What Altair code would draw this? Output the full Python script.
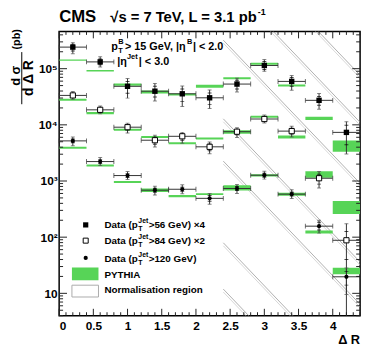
import altair as alt
import pandas as pd

FONT = "Liberation Sans"
W, H = 306, 289

# ---------------- data ----------------
bin_lo = [0.0, 0.4, 0.8, 1.2, 1.6, 2.0, 2.4, 2.8, 3.2, 3.6, 4.0]
bin_hi = [0.4, 0.8, 1.2, 1.6, 2.0, 2.4, 2.8, 3.2, 3.6, 4.0, 4.4]
bin_mid = [0.2, 0.6, 1.0, 1.4, 1.8, 2.2, 2.6, 3.0, 3.4, 3.8, 4.2]

# Data pT(jet) > 56 GeV, x4
s1_val = [2.42e5, 1.32e5, 4.85e4, 3.97e4, 3.57e4, 3.03e4, 5.32e4, 1.14e5, 5.93e4, 2.73e4, 7.34e3]
s1_tot_hi = [2.91e5, 1.63e5, 6.69e4, 5.47e4, 4.92e4, 4.18e4, 6.77e4, 1.45e5, 7.55e4, 3.62e4, 1.14e4]
s1_tot_lo = [1.85e5, 1.07e5, 2.99e4, 2.66e4, 2.12e4, 1.95e4, 3.86e4, 8.96e4, 4.13e4, 1.90e4, 3.03e3]
s1_stat_hi = [2.73e5, 1.49e5, 5.93e4, 4.85e4, 4.36e4, 3.70e4, 6.24e4, 1.34e5, 6.96e4, 3.20e4, 9.85e3]
s1_stat_lo = [2.06e5, 1.17e5, 3.66e4, 3.12e4, 2.59e4, 2.29e4, 4.36e4, 9.71e4, 4.85e4, 2.23e4, 4.4e3]

# Data pT(jet) > 84 GeV, x2
s2_val = [3.34e4, 1.85e4, 9.08e3, 5.32e3, 6.25e3, 4.06e3, 7.55e3, 1.27e4, 7.73e3, 1.12e3, 88]
s2_tot_hi = [3.92e4, 2.17e4, 1.066e4, 6.5e3, 7.34e3, 4.96e3, 8.86e3, 1.49e4, 9.45e3, 1.48e3, 174]
s2_tot_lo = [2.84e4, 1.576e4, 7.13e3, 4.02e3, 4.72e3, 3.06e3, 5.93e3, 1.08e4, 6.07e3, 749, 2]
s2_stat_hi = [3.62e4, 2.0e4, 9.83e3, 6.0e3, 6.77e3, 4.58e3, 8.18e3, 1.375e4, 8.72e3, 1.32e3, 126]
s2_stat_lo = [3.08e4, 1.71e4, 8.05e3, 4.53e3, 5.32e3, 3.46e3, 6.69e3, 1.17e4, 6.85e3, 880, 40]

# Data pT(jet) > 120 GeV
s3_val = [5.18e3, 2.22e3, 1.25e3, 686, 713, 491, 735, 1268, 583, 157, 19.7]
s3_tot_hi = [6.08e3, 2.61e3, 1.47e3, 805, 854, 600, 863, 1489, 698, 200, 28.3]
s3_tot_lo = [4.24e3, 1.89e3, 1.065e3, 561, 595, 386, 601, 1080, 487, 118, 9.55]
s3_stat_hi = [5.61e3, 2.40e3, 1.35e3, 743, 772, 554, 796, 1373, 631, 184, 24.6]
s3_stat_lo = [4.78e3, 2.05e3, 1.155e3, 633, 658, 435, 679, 1171, 538, 134, 14.0]

# PYTHIA bands (low / high edge)
p1_lo = [1.38e5, 8.93e4, 4.95e4, 3.63e4, 3.33e4, 4.56e4, 6.48e4, 1.17e5, 4.80e4, 1.22e4, 3.33e3]
p1_hi = [1.46e5, 9.48e4, 5.46e4, 4.10e4, 3.61e4, 5.16e4, 7.03e4, 1.28e5, 5.20e4, 1.40e4, 5.26e3]
p2_lo = [2.69e4, 1.54e4, 7.85e3, 5.83e3, 4.53e3, 5.47e3, 6.97e3, 1.34e4, 5.70e3, 1.14e3, 258]
p2_hi = [2.91e4, 1.70e4, 8.52e3, 6.32e3, 4.91e3, 5.93e3, 8.05e3, 1.45e4, 6.43e3, 1.49e3, 441]
p3_lo = [3.75e3, 1.82e3, 920, 640, 512, 561, 677, 1.20e3, 545, 116, 21.9]
p3_hi = [4.07e3, 1.97e3, 996, 735, 561, 608, 838, 1.32e3, 615, 132, 28.6]

# normalisation region hatching (decoration): line start at dR=2.4, end at dR=4.4
hatch_x0, hatch_x1 = 2.4, 4.4
hatch_start = [2.72e7, 3.93e6, 3.22e5, 1.28e4, 2.26e3, 79.4, 11.9]
hatch_end = [7.66e4, 1.11e4, 908, 36.1, 6.37, 0.224, 0.0337]

# axis ticks
x_major = [0, 0.5, 1, 1.5, 2, 2.5, 3, 3.5, 4]
x_minor = [round(i * 0.1, 1) for i in range(45) if i % 5]
y_major = [10, 100, 1000, 10000, 100000]
y_minor = [m * 10 ** e for e in range(0, 6) for m in range(2, 10) if 4 <= m * 10 ** e <= 4.6e5]

# ---------------- tables ----------------
series = [
    (s1_val, s1_tot_lo, s1_tot_hi, s1_stat_lo, s1_stat_hi),
    (s2_val, s2_tot_lo, s2_tot_hi, s2_stat_lo, s2_stat_hi),
    (s3_val, s3_tot_lo, s3_tot_hi, s3_stat_lo, s3_stat_hi),
]
rows, hcaps, tcaps, scaps = [], [], [], []
for sid, (v, tl, th, sl, sh) in enumerate(series):
    for i in range(len(bin_mid)):
        rows.append(dict(s=sid, x=bin_mid[i], xlo=bin_lo[i], xhi=bin_hi[i], v=v[i],
                         tlo=tl[i], thi=th[i]))
        hcaps += [dict(s=sid, x=bin_lo[i], v=v[i]), dict(s=sid, x=bin_hi[i], v=v[i])]
        tcaps += [dict(x=bin_mid[i], v=tl[i]), dict(x=bin_mid[i], v=th[i])]
        scaps += [dict(x=bin_mid[i], v=sl[i]), dict(x=bin_mid[i], v=sh[i])]
pts = pd.DataFrame(rows)
hcaps = pd.DataFrame(hcaps)
tcaps = pd.DataFrame(tcaps)
scaps = pd.DataFrame(scaps)

bands = pd.DataFrame(
    [dict(xlo=bin_lo[i], xhi=bin_hi[i], lo=lo[i], hi=hi[i])
     for lo, hi in [(p1_lo, p1_hi), (p2_lo, p2_hi), (p3_lo, p3_hi)]
     for i in range(len(bin_lo))]
)
hatch = pd.DataFrame(dict(x=[hatch_x0] * len(hatch_start), x2=[hatch_x1] * len(hatch_start),
                          y=hatch_start, y2=hatch_end))

xs = alt.Scale(domain=[0, 4.4], nice=False, zero=False)
ys = alt.Scale(type="log", domain=[4, 4.6e5], nice=False)
xa = alt.Axis(values=x_major, format=".1~f", ticks=False, tickSize=0, domain=False, grid=False,
              title=None, labelFont=FONT, labelFontSize=12, labelFontWeight="bold",
              labelPadding=5, labelColor="black")
ylab = ("datum.value == 10 ? '10' : datum.value == 100 ? '10\u00b2' : datum.value == 1000 ? '10\u00b3'"
        " : datum.value == 10000 ? '10\u2074' : '10\u2075'")
ya = alt.Axis(values=y_major, labelExpr=ylab, ticks=False, tickSize=0, domain=False, grid=False,
              title=None, labelFont=FONT, labelFontSize=12, labelFontWeight="bold",
              labelPadding=2, labelColor="black")


def X(f):
    return alt.X(f, type="quantitative", scale=xs, axis=xa)


def Y(f):
    return alt.Y(f, type="quantitative", scale=ys, axis=ya)


layers = []

# hatching
layers.append(alt.Chart(hatch).mark_rule(clip=True, color="#8c8c8c", strokeWidth=0.7).encode(
    x=X("x"), x2="x2", y=Y("y"), y2="y2"))
layers.append(alt.Chart(hatch).mark_rule(clip=True, color="#c4c4c4", strokeWidth=0.7,
                                         yOffset=3, y2Offset=3).encode(
    x=X("x"), x2="x2", y=Y("y"), y2="y2"))

# PYTHIA bands
layers.append(alt.Chart(bands).mark_rect(color="#57d457", clip=True).encode(
    x=X("xlo"), x2="xhi", y=Y("lo"), y2="hi"))

# error bars
layers.append(alt.Chart(pts).mark_rule(color="#333333", strokeWidth=1).encode(
    x=X("xlo"), x2="xhi", y=Y("v")))
layers.append(alt.Chart(hcaps).mark_tick(orient="vertical", size=5, thickness=1, color="#333333").encode(
    x=X("x"), y=Y("v")))
layers.append(alt.Chart(pts).mark_rule(color="#333333", strokeWidth=1, clip=True).encode(
    x=X("x"), y=Y("tlo"), y2="thi"))
layers.append(alt.Chart(tcaps).mark_tick(orient="horizontal", size=4, thickness=1, color="#555555",
                                         clip=True).encode(x=X("x"), y=Y("v")))
layers.append(alt.Chart(scaps).mark_tick(orient="horizontal", size=4, thickness=1, color="#000000",
                                         clip=True).encode(x=X("x"), y=Y("v")))

# markers
layers.append(alt.Chart(pts[pts.s == 0]).mark_point(shape="square", filled=True, size=30,
                                                    color="black", opacity=1).encode(x=X("x"), y=Y("v")))
layers.append(alt.Chart(pts[pts.s == 1]).mark_point(shape="square", filled=True, size=28, fill="white",
                                                    stroke="black", strokeWidth=1, opacity=1).encode(
    x=X("x"), y=Y("v")))
layers.append(alt.Chart(pts[pts.s == 2]).mark_point(shape="circle", filled=True, size=18,
                                                    color="black", opacity=1).encode(x=X("x"), y=Y("v")))

# inner ticks (ROOT style)
xt = pd.DataFrame(dict(t=x_major))
xm = pd.DataFrame(dict(t=x_minor))
yt = pd.DataFrame(dict(t=y_major))
ym = pd.DataFrame(dict(t=y_minor))
tick_col = "#222222"
for df, ln in [(xt, 7), (xm, 3.5)]:
    layers.append(alt.Chart(df).mark_rule(color=tick_col, strokeWidth=1).encode(
        x=X("t"), y=alt.value(H), y2=alt.value(H - ln)))
    layers.append(alt.Chart(df).mark_rule(color=tick_col, strokeWidth=1).encode(
        x=X("t"), y=alt.value(0), y2=alt.value(ln)))
for df, ln in [(yt, 8), (ym, 4)]:
    layers.append(alt.Chart(df).mark_rule(color=tick_col, strokeWidth=1).encode(
        y=Y("t"), x=alt.value(0), x2=alt.value(ln)))
    layers.append(alt.Chart(df).mark_rule(color=tick_col, strokeWidth=1).encode(
        y=Y("t"), x=alt.value(W), x2=alt.value(W - ln)))

one = pd.DataFrame({"a": [0]})


def txt(s, x, y, size, align="left", baseline="alphabetic", angle=None):
    kw = dict(align=align, baseline=baseline, font=FONT, fontSize=size, fontWeight="bold", color="black")
    if angle is not None:
        kw["angle"] = angle
    return alt.Chart(one).mark_text(**kw).encode(x=alt.value(x), y=alt.value(y), text=alt.value(s))


# title
layers.append(txt("CMS", 0, -10, 17))
layers.append(txt("\u221as = 7 TeV, L = 3.1 pb", 52, -10, 15))
layers.append(txt("-1", 202, -17, 9))

# header text
layers.append(txt("p", 53, 19, 11))
layers.append(txt("T", 60, 22, 7.5))
layers.append(txt("B", 60, 13, 7.5))
layers.append(txt("> 15 GeV, |\u03b7", 67, 19, 11))
layers.append(txt("B", 130, 13, 7.5))
layers.append(txt("| < 2.0", 136, 19, 11))
layers.append(txt("|\u03b7", 59, 34, 11))
layers.append(txt("Jet", 69, 28, 7.5))
layers.append(txt("| < 3.0", 81, 34, 11))

# y title
layers.append(txt("d \u03c3", -44, 45, 13, align="center", baseline="middle", angle=270))
layers.append(txt("d  \u0394  R", -31, 47.5, 14, align="center", baseline="middle", angle=270))
layers.append(txt("(pb)", -43, 8, 11, align="center", baseline="middle", angle=270))
layers.append(alt.Chart(one).mark_rule(color="black", strokeWidth=1).encode(
    x=alt.value(-38), y=alt.value(21), y2=alt.value(74)))

# x title
layers.append(txt("\u0394 R", W, 318, 13, align="right"))

# legend
leg = [
    (196.7, 199.5, ">56 GeV) \u00d74"),
    (212.7, 216.0, ">84 GeV) \u00d72"),
    (230.3, 234.3, ">120 GeV)"),
]
layers.append(alt.Chart(one).mark_point(shape="square", filled=True, size=28, color="black", opacity=1).encode(
    x=alt.value(27), y=alt.value(leg[0][0])))
layers.append(alt.Chart(one).mark_point(shape="square", filled=True, size=26, fill="white", stroke="black",
                                        strokeWidth=1, opacity=1).encode(x=alt.value(27), y=alt.value(leg[1][0])))
layers.append(alt.Chart(one).mark_point(shape="circle", filled=True, size=18, color="black", opacity=1).encode(
    x=alt.value(27), y=alt.value(leg[2][0])))
for my, by, rest in leg:
    layers.append(txt("Data (p", 46, by, 10))
    layers.append(txt("Jet", 80.5, by - 5, 7))
    layers.append(txt("T", 80.5, by + 3, 7))
    layers.append(txt(rest, 91, by, 10))
layers.append(alt.Chart(one).mark_rect(color="#57d457").encode(
    x=alt.value(13), x2=alt.value(40), y=alt.value(240), y2=alt.value(253)))
layers.append(txt("PYTHIA", 46, 251, 10))
layers.append(alt.Chart(one).mark_rect(fill="white", stroke="#aaaaaa", strokeWidth=1).encode(
    x=alt.value(13), x2=alt.value(40), y=alt.value(258), y2=alt.value(270)))
layers.append(txt("Normalisation region", 46, 266, 10))

chart = alt.layer(*layers).properties(
    width=W, height=H,
    autosize=alt.AutoSizeParams(type="none"),
    padding={"left": 52, "top": 21, "right": 6, "bottom": 29},
).configure_view(stroke="black", strokeWidth=1.5)

chart.save("out.html", embed_options={"renderer": "svg", "actions": False})
